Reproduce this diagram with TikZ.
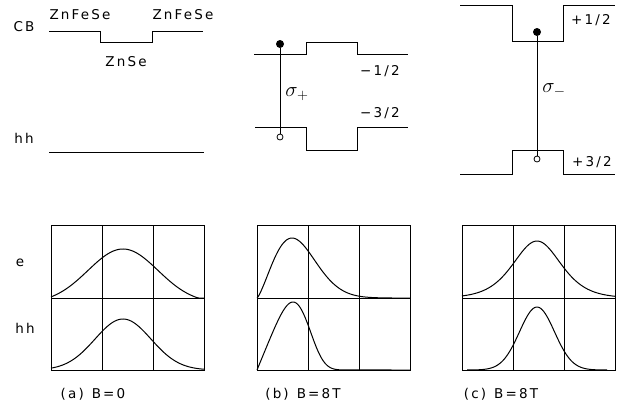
\documentclass[tikz,border=0pt]{standalone}
\usepackage{fontspec}
\setmainfont{DejaVu Sans}[LetterSpace=16]
\usetikzlibrary{positioning}

\begin{document}
\begin{tikzpicture}[x=1pt, y=-1pt,
  band/.style={line width=0.9pt},
  frame/.style={line width=0.9pt},
  grid line/.style={line width=0.7pt},
  wave/.style={line width=1pt, smooth},
  elec/.style={circle, fill=black, inner sep=0pt, minimum size=8pt},
  hole/.style={circle, draw, line width=0.8pt, inner sep=0pt, minimum size=6pt},
  lbl/.style={font=\fontsize{13.5}{15}\selectfont, inner sep=0pt},
  sig/.style={font=\fontsize{20}{21}\selectfont, inner sep=0pt}
]
\useasboundingbox (0,0) rectangle (624,408);

%% --- (a) band edges, B=0 ---
\draw[band] (49,31) -- (100,31) -- (100,42) -- (152,42) -- (152,31) -- (203,31);
\draw[band] (49,152) -- (204,152);
\node[lbl] (cb)  at (24,27)  {CB};
\node[lbl] (hhb) at (24,138) {hh};
\node[lbl] (barl) at (80,15)  {ZnFeSe};
\node[lbl] (barr) at (183,15) {ZnFeSe};
\node[lbl] (well) at (126,62) {ZnSe};

%% --- (b) sigma+ transition ---
\draw[band] (254,54) -- (306,54) -- (306,42) -- (357,42) -- (357,54) -- (408,54);
\draw[band] (255,127) -- (306,127) -- (306,150) -- (357,150) -- (357,127) -- (408,127);
\node[elec] (eb) at (280,44) {};
\node[hole] (hb) at (280,137) {};
\draw[band] (eb) -- (hb);
\node[sig] (sigp) at (297,94) {$\sigma_+$};
\node[lbl] (spinb1) at (380,71)  {−1/2};
\node[lbl] (spinb3) at (380,113) {−3/2};

%% --- (c) sigma- transition ---
\draw[band] (460,5) -- (512,5) -- (512,41) -- (563,41) -- (563,5) -- (615,5);
\draw[band] (460,174) -- (512,174) -- (512,150) -- (563,150) -- (563,174) -- (615,174);
\node[elec] (ec) at (537,32) {};
\node[hole] (hc) at (537,159) {};
\draw[band] (ec) -- (hc);
\node[sig] (sigm) at (554,90) {$\sigma_-$};
\node[lbl] (spinc1) at (591,20)  {+1/2};
\node[lbl] (spinc3) at (592,162) {+3/2};

%% --- wavefunction frames ---
\foreach \l in {51,257,462} {
  \draw[frame] (\l,225) rectangle (\l+153,370);
  \draw[frame] (\l,298) -- (\l+153,298);
  \draw[grid line] (\l+51,225) -- (\l+51,370);
  \draw[grid line] (\l+102,225) -- (\l+102,370);
}
\node[lbl] (lble)  at (20,263) {e};
\node[lbl] (lblhh) at (25,328) {hh};

%% --- (a) envelopes ---
\draw[wave] plot[domain=51:204, samples=90]
  (\x, {298-49*max(0,(exp(-(\x-123)^2/2450)-0.1)/0.9)});
\draw[wave] plot[domain=51:204, samples=90]
  (\x, {370-51*exp(-(\x-123)^2/1568)});

%% --- (b) envelopes, pushed to the left wall ---
\draw[wave] (257,298) -- plot[domain=257.5:395, samples=90]
  (\x, {298-60*((\x-257)/35)^1.3*exp(0.65*(1-((\x-257)/35)^2))}) -- (410,298);
\draw[wave] (257,370) -- plot[domain=257.5:345, samples=90]
  (\x, {370-68*((\x-257)/36)*exp(0.25*(1-((\x-257)/36)^4))}) -- (410,370);

%% --- (c) envelopes ---
\draw[wave] plot[domain=462:615, samples=90]
  (\x, {298-57/(cosh((\x-537)/32)^2)});
\draw[wave] plot[domain=467:607, samples=90]
  (\x, {370-63*exp(-(\x-537)^2/612)});

%% --- panel captions ---
\node[lbl] (capa) at (93,394)  {(a)\hspace{8pt}B=0};
\node[lbl] (capb) at (303,394) {(b)\hspace{8pt}B=8T};
\node[lbl] (capc) at (501,394) {(c)\hspace{8pt}B=8T};

\end{tikzpicture}
\end{document}
